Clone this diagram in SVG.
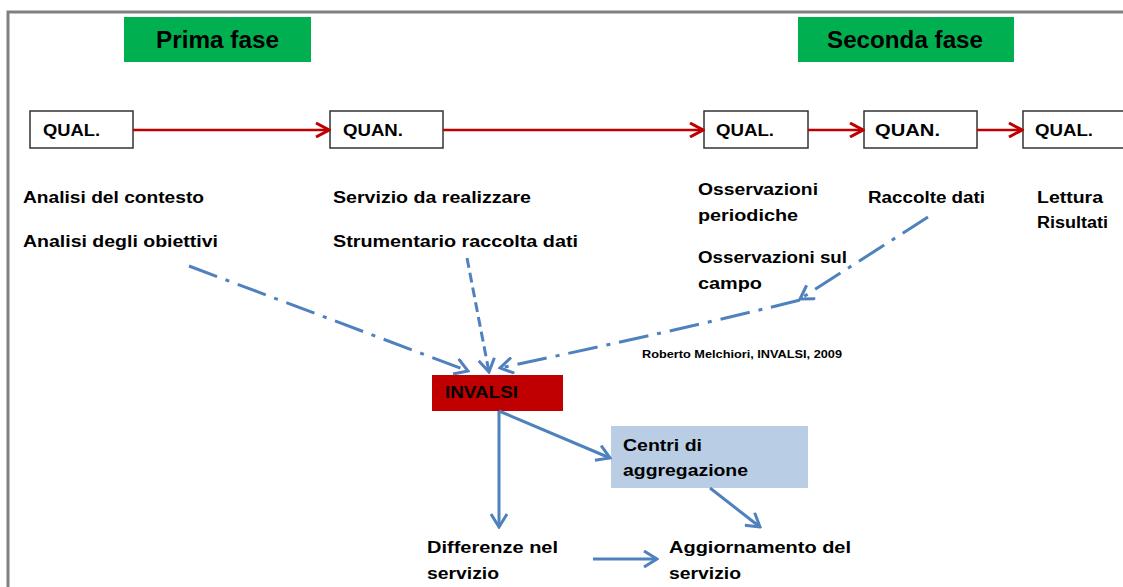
<svg xmlns="http://www.w3.org/2000/svg" width="1123" height="587" viewBox="0 0 1123 587">
<style>
text{font-family:"Liberation Sans",Arial,sans-serif;font-weight:bold;fill:#000}
.t{font-size:16px}
.h{font-size:24px}
.s{font-size:11px}
.box{fill:#fff;stroke:#333;stroke-width:1.5}
.red{fill:none;stroke:#c00000;stroke-width:2.5}
.blue{fill:none;stroke:#4f81bd;stroke-width:3}
.dd{fill:none;stroke:#4f81bd;stroke-width:3;stroke-dasharray:30 9 4 9}
.da{fill:none;stroke:#4f81bd;stroke-width:3;stroke-dasharray:10 5}
</style>
<defs>
<marker id="ar" viewBox="0 0 16 16" refX="14" refY="8" markerWidth="16" markerHeight="16" markerUnits="userSpaceOnUse" orient="auto"><path d="M1,1 L14,8 L1,15" fill="none" stroke="#c00000" stroke-width="3"/></marker>
<marker id="ab" viewBox="0 0 16 18" refX="14" refY="9" markerWidth="16" markerHeight="18" markerUnits="userSpaceOnUse" orient="auto"><path d="M1,1 L14,9 L1,17" fill="none" stroke="#4f81bd" stroke-width="3"/></marker>
</defs>
<rect width="1123" height="587" fill="#fff"/>
<g id="frame"><path d="M8,587 L8,12 L1123,12" fill="none" stroke="#808080" stroke-width="3"/></g>
<g id="prima-fase"><rect x="124" y="17" width="187" height="45" fill="#00b050"/><text class="h" x="156" y="48" textLength="123" lengthAdjust="spacingAndGlyphs">Prima fase</text></g>
<g id="seconda-fase"><rect x="798" y="17" width="216" height="45" fill="#00b050"/><text class="h" x="827" y="48" textLength="156" lengthAdjust="spacingAndGlyphs">Seconda fase</text></g>
<g id="qual1"><rect class="box" x="30" y="111" width="103" height="37"/><text class="t" x="43" y="136" textLength="57" lengthAdjust="spacingAndGlyphs">QUAL.</text></g>
<g id="quan1"><rect class="box" x="330" y="111" width="113" height="37"/><text class="t" x="343" y="136" textLength="60" lengthAdjust="spacingAndGlyphs">QUAN.</text></g>
<g id="qual2"><rect class="box" x="704" y="111" width="104" height="37"/><text class="t" x="716" y="136" textLength="58" lengthAdjust="spacingAndGlyphs">QUAL.</text></g>
<g id="quan2"><rect class="box" x="864" y="111" width="113" height="37"/><text class="t" x="875" y="136" textLength="65" lengthAdjust="spacingAndGlyphs">QUAN.</text></g>
<g id="qual3"><rect class="box" x="1023" y="111" width="110" height="37"/><text class="t" x="1035" y="136" textLength="58" lengthAdjust="spacingAndGlyphs">QUAL.</text></g>
<g id="analisi"><text class="t" x="23" y="203" textLength="181" lengthAdjust="spacingAndGlyphs">Analisi del contesto</text><text class="t" x="23" y="247" textLength="195" lengthAdjust="spacingAndGlyphs">Analisi degli obiettivi</text></g>
<g id="servizio"><text class="t" x="333" y="203" textLength="198" lengthAdjust="spacingAndGlyphs">Servizio da realizzare</text><text class="t" x="333" y="247" textLength="245" lengthAdjust="spacingAndGlyphs">Strumentario raccolta dati</text></g>
<g id="osservazioni"><text class="t" x="698" y="195" textLength="120" lengthAdjust="spacingAndGlyphs">Osservazioni</text><text class="t" x="698" y="221" textLength="100" lengthAdjust="spacingAndGlyphs">periodiche</text><text class="t" x="698" y="263" textLength="149" lengthAdjust="spacingAndGlyphs">Osservazioni sul</text><text class="t" x="698" y="289" textLength="64" lengthAdjust="spacingAndGlyphs">campo</text></g>
<g id="raccolte"><text class="t" x="868" y="203" textLength="117" lengthAdjust="spacingAndGlyphs">Raccolte dati</text></g>
<g id="lettura"><text class="t" x="1037" y="203" textLength="66" lengthAdjust="spacingAndGlyphs">Lettura</text><text class="t" x="1037" y="228" textLength="71" lengthAdjust="spacingAndGlyphs">Risultati</text></g>
<g id="credit"><text class="s" x="642" y="358" textLength="200" lengthAdjust="spacingAndGlyphs">Roberto Melchiori,  INVALSI, 2009</text></g>
<g id="invalsi"><rect x="432" y="375" width="131" height="36" fill="#c00000"/><text class="t" x="445" y="398" textLength="73" lengthAdjust="spacingAndGlyphs">INVALSI</text></g>
<g id="centri"><rect x="611" y="426" width="197" height="62" fill="#b9cde5"/><text class="t" x="623" y="451" textLength="79" lengthAdjust="spacingAndGlyphs">Centri di</text><text class="t" x="623" y="476" textLength="125" lengthAdjust="spacingAndGlyphs">aggregazione</text></g>
<g id="differenze"><text class="t" x="427" y="553" textLength="131" lengthAdjust="spacingAndGlyphs">Differenze nel</text><text class="t" x="427" y="579" textLength="72" lengthAdjust="spacingAndGlyphs">servizio</text></g>
<g id="aggiornamento"><text class="t" x="669" y="553" textLength="182" lengthAdjust="spacingAndGlyphs">Aggiornamento del</text><text class="t" x="669" y="579" textLength="72" lengthAdjust="spacingAndGlyphs">servizio</text></g>
<g id="connectors">
<path class="red" d="M133,130 L329,130" marker-end="url(#ar)"/>
<path class="red" d="M443,130 L703,130" marker-end="url(#ar)"/>
<path class="red" d="M808,130 L863,130" marker-end="url(#ar)"/>
<path class="red" d="M977,130 L1022,130" marker-end="url(#ar)"/>
<path class="dd" d="M189,266 L468,371" marker-end="url(#ab)"/>
<path class="da" d="M467,258 L489,372" marker-end="url(#ab)"/>
<path class="dd" d="M928,217 L800,299" marker-end="url(#ab)"/>
<path class="dd" d="M800,300 Q680,330 500,368" marker-end="url(#ab)"/>
<path class="blue" d="M499,411 L499,527" marker-end="url(#ab)"/>
<path class="blue" d="M499,411 L610,458" marker-end="url(#ab)"/>
<path class="blue" d="M710,488 L760,527" marker-end="url(#ab)"/>
<path class="blue" d="M593,559 L657,559" marker-end="url(#ab)"/>
</g>
</svg>
